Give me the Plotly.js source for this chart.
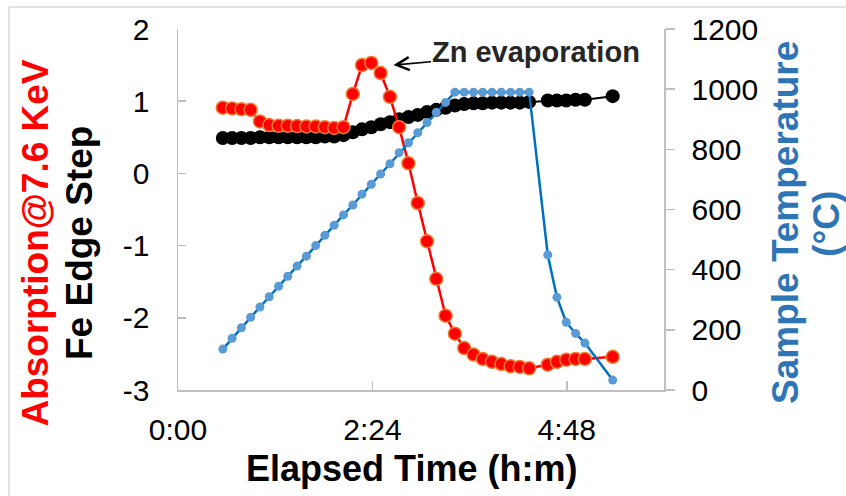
<!DOCTYPE html>
<html><head><meta charset="utf-8">
<script src="https://cdn.plot.ly/plotly-3.0.1.min.js"></script>
<style>html,body{margin:0;padding:0;background:#fff;} #chart{width:846px;height:496px;}</style>
</head><body><div id="chart"></div>
<script>
// Elapsed time in minutes
const elapsedMin = [33.2,40.1,47.0,53.8,60.7,67.6,74.5,81.3,88.2,95.1,102.0,108.8,115.7,122.6,
  129.5,136.3,143.2,150.1,157.0,163.8,170.7,177.6,184.5,191.3,198.2,205.1,212.0,218.9,225.7,232.6,239.5,246.4,253.2,260.1,
  273.9,280.7,287.6,294.5,301.4,322.0];
// Absorption @ 7.6 keV (left axis)
const absorption = [0.91,0.90,0.89,0.88,0.72,0.67,0.66,0.66,0.655,0.65,0.65,0.64,0.63,0.64,
  1.10,1.50,1.53,1.39,1.06,0.64,0.14,-0.41,-0.94,-1.46,-1.97,-2.22,-2.42,-2.51,-2.57,-2.61,-2.64,-2.67,-2.68,-2.70,
  -2.65,-2.61,-2.58,-2.57,-2.57,-2.54];
// Fe edge step (left axis)
const feEdgeStep = [0.49,0.49,0.49,0.49,0.50,0.50,0.50,0.50,0.50,0.50,0.50,0.51,0.51,0.53,
  0.57,0.61,0.64,0.68,0.71,0.75,0.78,0.81,0.85,0.88,0.91,0.94,0.96,0.97,0.97,0.98,0.98,0.98,0.98,0.99,
  1.01,1.01,1.01,1.02,1.02,1.07];
// Sample temperature in °C (right axis)
const sampleTempC = [136,172,207,242,276,310,345,378,412,445,480,514,548,582,
  615,651,684,718,752,789,822,855,889,923,956,990,990,990,990,990,990,990,990,990,
  449,308,225,188,156,33];
const xTickVals = [0,144,288];
const xTickText = ['0:00','2:24','4:48'];
const yTickVals = [-3,-2,-1,0,1,2];
const yTickText = ['-3','-2','-1','0','1','2'];
const y2TickVals = [0,200,400,600,800,1000,1200];
const y2TickText = ['0','200','400','600','800','1000','1200'];

const FONT = 'Liberation Sans, Arial, sans-serif';
const axisGray = '#bfbfbf';

const traces = [
  {x: elapsedMin, y: feEdgeStep, type:'scatter', mode:'lines+markers', name:'Fe Edge Step',
   line:{color:'#000000', width:2}, marker:{color:'#000000', size:14}},
  {x: elapsedMin, y: absorption, type:'scatter', mode:'lines+markers', name:'Absorption@7.6 KeV',
   line:{color:'#ff0000', width:2.5}, marker:{color:'#ff0000', size:13, line:{color:'#ed7d31', width:1.5}}},
  {x: elapsedMin, y: sampleTempC, type:'scatter', mode:'lines+markers', name:'Sample Temperature', yaxis:'y2',
   line:{color:'#0070c0', width:2.5}, marker:{color:'#5b9bd5', size:9}}
];

const layout = {
  width:846, height:496,
  margin:{l:178, r:182, t:29, b:106, pad:0},
  paper_bgcolor:'#ffffff', plot_bgcolor:'#ffffff',
  showlegend:false,
  font:{family:FONT, color:'#000000', size:30},
  xaxis:{range:[0,360], tickvals:xTickVals, ticktext:xTickText, ticks:'inside', ticklen:9, tickwidth:1.5,
    tickcolor:axisGray, showline:true, linecolor:axisGray, linewidth:1.5, showgrid:false, zeroline:false,
    tickfont:{size:30, color:'#000'}, ticklabelstandoff:12, fixedrange:true},
  yaxis:{range:[-3,2], tickvals:yTickVals, ticktext:yTickText, ticks:'inside', ticklen:8, tickwidth:1.5, tickcolor:axisGray,
    showline:true, linecolor:axisGray, linewidth:1.5, showgrid:false, zeroline:false,
    tickfont:{size:30, color:'#000'}, ticklabelstandoff:21},
  yaxis2:{range:[0,1200], tickvals:y2TickVals, ticktext:y2TickText, overlaying:'y', side:'right', ticks:'outside', ticklen:9,
    tickwidth:1.5, tickcolor:axisGray, showline:true, linecolor:axisGray, linewidth:1.5, showgrid:false,
    zeroline:false, tickfont:{size:30, color:'#000'}, ticklabelstandoff:11},
  shapes:[{type:'rect', xref:'paper', yref:'paper', x0:-0.3477, x1:1.6, y0:-0.6, y1:1.061,
    line:{color:'#d9d9d9', width:1.5}, layer:'below'}],
  annotations:[
    {xref:'paper', yref:'paper', x:-0.2942, y:0.4058, text:'<b>Absorption@7.6 KeV</b>', textangle:-90,
     showarrow:false, xanchor:'center', yanchor:'middle', font:{size:37, color:'#ff0000', family:FONT}},
    {xref:'paper', yref:'paper', x:-0.2037, y:0.4072, text:'<b>Fe Edge Step</b>', textangle:-90,
     showarrow:false, xanchor:'center', yanchor:'middle', font:{size:37, color:'#000000', family:FONT}},
    {xref:'paper', yref:'paper', x:1.249, y:0.4626, text:'<b>Sample Temperature</b>', textangle:-90,
     showarrow:false, xanchor:'center', yanchor:'middle', font:{size:37, color:'#2e75b6', family:FONT}},
    {xref:'paper', yref:'paper', x:1.333, y:0.4598, text:'<b>(°C)</b>', textangle:-90,
     showarrow:false, xanchor:'center', yanchor:'middle', font:{size:37, color:'#2e75b6', family:FONT}},
    {xref:'paper', yref:'paper', x:0.4809, y:-0.218, text:'<b>Elapsed Time (h:m)</b>',
     showarrow:false, xanchor:'center', yanchor:'middle', font:{size:36, color:'#000000', family:FONT}},
    {xref:'x', yref:'y', x:159.6, y:1.50, ax:143, ay:-13, text:'<b>Zn evaporation</b>',
     showarrow:true, arrowhead:5, arrowsize:1.6, arrowwidth:1.6, arrowcolor:'#000000', standoff:0,
     font:{size:29, color:'#262626', family:FONT}}
  ]
};

Plotly.newPlot('chart', traces, layout, {staticPlot:true, displayModeBar:false});
</script>
</body></html>
